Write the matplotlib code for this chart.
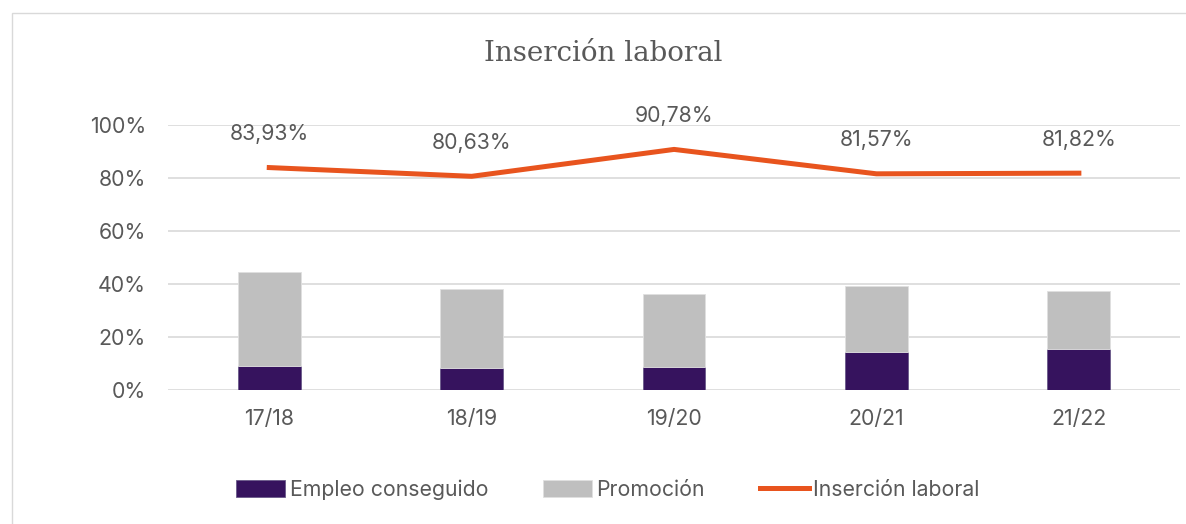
import matplotlib.pyplot as plt
from matplotlib.patches import Rectangle
import numpy as np

cursos = ['17/18', '18/19', '19/20', '20/21', '21/22']
empleo = [0.092, 0.084, 0.088, 0.144, 0.156]
promocion = [0.355, 0.298, 0.274, 0.249, 0.218]
insercion = [0.8393, 0.8063, 0.9078, 0.8157, 0.8182]
etiquetas = ['83,93%', '80,63%', '90,78%', '81,57%', '81,82%']

gris_txt = '#595959'
plt.rcParams['font.family'] = ['Inter', 'DejaVu Sans']
fs = 15.3

fig = plt.figure(figsize=(11.86, 5.24), dpi=100)
ax = fig.add_axes([0.1417, 0.2557, 0.8533, 0.5058])

# marco exterior
fig.patches.append(Rectangle((12 / 1186, -0.1), 1.2, 1 - 13 / 524 + 0.1,
                             transform=fig.transFigure, fill=False,
                             edgecolor='#d9d9d9', linewidth=1))

x = np.arange(len(cursos))
b1 = ax.bar(x, empleo, width=0.31, color='#36135E', edgecolor='#6a5a8a',
            linewidth=0.6, label='Empleo conseguido', zorder=3)
b2 = ax.bar(x, promocion, width=0.31, bottom=empleo, color='#BFBFBF',
            edgecolor='#e0e0e0', linewidth=0.6, label='Promoción', zorder=3)
l1, = ax.plot(x, insercion, color='#E8541E', linewidth=3.6,
              label='Inserción laboral', zorder=4)

for xi, v, t in zip(x, insercion, etiquetas):
    ax.annotate(t, (xi, v), xytext=(0, 24), textcoords='offset points',
                ha='center', va='center', fontsize=fs, color=gris_txt)

ax.set_xlim(-0.5, len(cursos) - 0.5)
ax.set_ylim(0, 1)
ax.set_yticks(np.arange(0, 1.01, 0.2))
ax.set_yticklabels([f'{int(round(v * 100))}%' for v in np.arange(0, 1.01, 0.2)])
ax.set_xticks(x)
ax.set_xticklabels(cursos)
ax.tick_params(axis='both', length=0, labelsize=fs, labelcolor=gris_txt)
ax.tick_params(axis='y', pad=16)
ax.tick_params(axis='x', pad=14)
ax.grid(axis='y', color='#d9d9d9', linewidth=1.2, zorder=0)
for s in ax.spines.values():
    s.set_visible(False)

fig.text(0.509, 0.898, 'Inserción laboral', ha='center', va='center',
         fontsize=20, color=gris_txt, family='DejaVu Serif')

ax.legend([b1, b2, l1], ['Empleo conseguido', 'Promoción', 'Inserción laboral'],
          loc='center', bbox_to_anchor=(608 / 1186, 1 - 490 / 524),
          bbox_transform=fig.transFigure, ncol=3, frameon=False,
          fontsize=fs, labelcolor=gris_txt, handlelength=2.3,
          handleheight=0.85, handletextpad=0.2, columnspacing=2.6)

fig.savefig('out.png', dpi=100)
